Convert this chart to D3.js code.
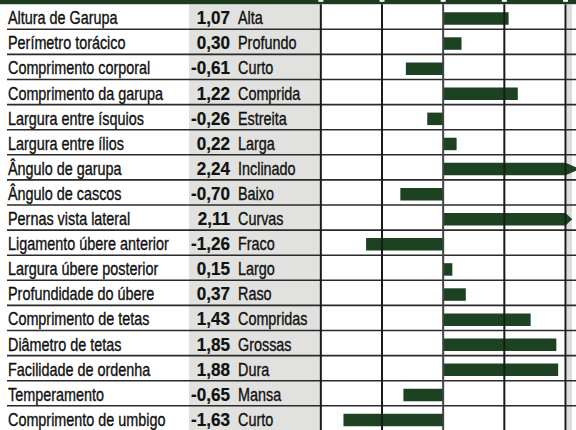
<!DOCTYPE html>
<html>
<head>
<meta charset="utf-8">
<script src="https://cdn.jsdelivr.net/npm/d3@7"></script>
<style>
  body { margin: 0; background: #fff; }
  svg { display: block; }
  .label { font-family: "Liberation Sans", Arial, sans-serif; font-size: 18px; fill: #111; stroke: #111; stroke-width: 0.35; }
  .value { font-weight: bold; stroke-width: 0.2; }
</style>
</head>
<body>
<div id="chart"></div>
<script>
const traits = [
  "Altura de Garupa", "Perímetro torácico", "Comprimento corporal", "Comprimento da garupa",
  "Largura entre ísquios", "Largura entre ílios", "Ângulo de garupa", "Ângulo de cascos",
  "Pernas vista lateral", "Ligamento úbere anterior", "Largura úbere posterior",
  "Profundidade do úbere", "Comprimento de tetas", "Diâmetro de tetas",
  "Facilidade de ordenha", "Temperamento", "Comprimento de umbigo"
]
const values = [1.07, 0.30, -0.61, 1.22, -0.26, 0.22, 2.24, -0.70, 2.11, -1.26, 0.15, 0.37, 1.43, 1.85, 1.88, -0.65, -1.63]
const descriptors = [
  "Alta", "Profundo", "Curto", "Comprida", "Estreita", "Larga", "Inclinado", "Baixo",
  "Curvas", "Fraco", "Largo", "Raso", "Compridas", "Grossas", "Dura", "Mansa", "Curto"
]
const ticks = [-2, -1, 0, 1, 2]

const width = 576
const height = 430
const headerH = 4.2
const rowH = 25.1
const green = "#1c4222"
const narrow = 0.8 // condensed look for the labels
const locale = d3.formatLocale({decimal: ",", thousands: ".", grouping: [3], currency: ["R$", ""], minus: "-"})
const fmt = locale.format(".2f")

const svg = d3.select("#chart").append("svg")
  .attr("width", width)
  .attr("height", height)

const y = d3.scaleBand()
  .domain(traits)
  .range([headerH, headerH + rowH * traits.length])
  .padding(0)

const x = d3.scaleLinear()
  .domain([-1, 2])
  .range([382, 565.5])

// value column background
svg.append("rect")
  .attr("x", 189)
  .attr("y", headerH)
  .attr("width", x(-2) - 189)
  .attr("height", height - headerH)
  .attr("fill", "#e1e2df")

// thin gray strip at the right edge
svg.append("rect")
  .attr("x", x(2) + 1.5)
  .attr("y", headerH)
  .attr("width", 5)
  .attr("height", height - headerH)
  .attr("fill", "#dcdcdc")

// bars
const rows = svg.append("g")
  .selectAll("g")
  .data(traits)
  .enter()
  .append("g")
  .attr("transform", d => `translate(0,${y(d)})`)

rows.append("path")
  .attr("fill", green)
  .attr("d", (d, i) => {
    const v = values[i]
    const top = 8, bot = 20.5
    if (v > 2) {
      // clipped bar with arrow head
      const x0 = x(0), x1 = x(2), tip = x(v)
      return `M${x0},${top}H${x1}L${tip},${(top + bot) / 2}L${x1},${bot}H${x0}Z`
    }
    const a = Math.min(x(0), x(v)), b = Math.max(x(0), x(v))
    return `M${a},${top}H${b}V${bot}H${a}Z`
  })

// horizontal separators
svg.append("g")
  .selectAll("line")
  .data(traits)
  .enter()
  .append("line")
  .attr("x1", 7)
  .attr("x2", width)
  .attr("y1", d => y(d) + rowH)
  .attr("y2", d => y(d) + rowH)
  .attr("stroke", "#2a2a2a")
  .attr("stroke-width", 1.6)

// vertical grid
svg.append("g")
  .selectAll("line")
  .data(ticks)
  .enter()
  .append("line")
  .attr("x1", d => x(d))
  .attr("x2", d => x(d))
  .attr("y1", headerH)
  .attr("y2", height)
  .attr("stroke", d => d === 0 ? "#444" : "#1a1a1a")
  .attr("stroke-width", 2)

// header band
svg.append("rect")
  .attr("x", 0)
  .attr("y", 0)
  .attr("width", width)
  .attr("height", headerH)
  .attr("fill", "#1d3b1f")

svg.append("g")
  .selectAll("rect")
  .data(ticks)
  .enter()
  .append("rect")
  .attr("x", d => x(d) - 2.5)
  .attr("y", 0)
  .attr("width", 5)
  .attr("height", 1.8)
  .attr("fill", "#fff")

// texts
rows.append("text")
  .attr("class", "label")
  .attr("transform", `translate(8,20) scale(${narrow},1)`)
  .text(d => d)

rows.append("text")
  .attr("class", "label value")
  .attr("transform", "translate(230,20) scale(0.95,1)")
  .attr("text-anchor", "end")
  .text((d, i) => fmt(values[i]))

rows.append("text")
  .attr("class", "label")
  .attr("transform", `translate(238,20) scale(${narrow},1)`)
  .text((d, i) => descriptors[i])
</script>
</body>
</html>
